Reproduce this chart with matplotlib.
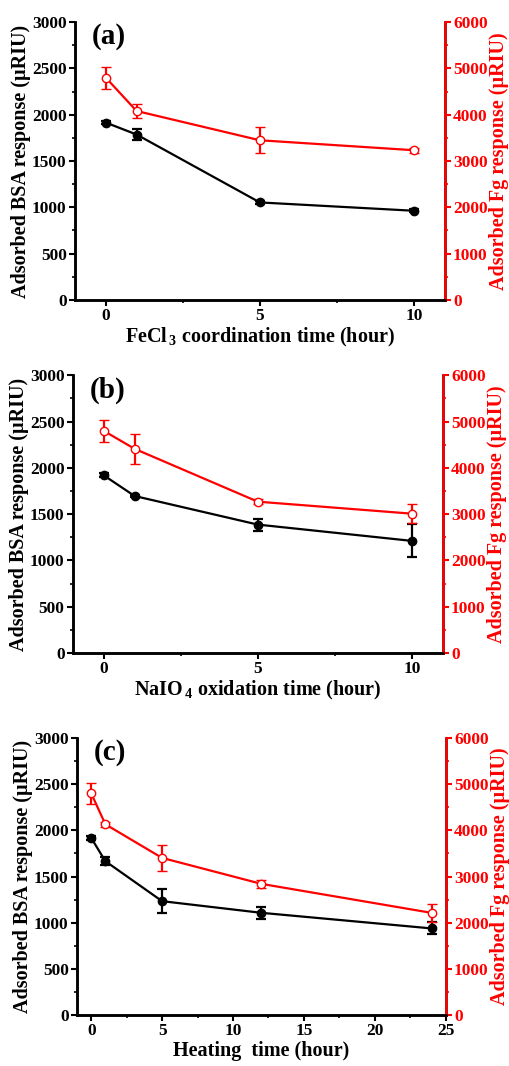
"""Adsorbed BSA / Fg responses vs treatment time, three stacked twin-axis panels."""
import numpy as np
import matplotlib
matplotlib.use("Agg")
import matplotlib.pyplot as plt
from matplotlib.ticker import MultipleLocator

plt.rcParams["font.family"] = ["Liberation Serif", "DejaVu Serif"]
plt.rcParams["font.weight"] = "bold"
plt.rcParams["mathtext.default"] = "regular"

# (a) FeCl3 coordination
t_a = [0, 1, 5, 10]
bsa_a = [1915, 1786, 1053, 963]
bsa_a_err = [20, 63, 20, 15]
fg_a = [4800, 4080, 3448, 3233]
fg_a_err = [240, 145, 280, 55]

# (b) NaIO4 oxidation
t_b = [0, 1, 5, 10]
bsa_b = [1919, 1696, 1387, 1211]
bsa_b_err = [20, 15, 65, 178]
fg_b = [4799, 4411, 3269, 3010]
fg_b_err = [233, 330, 60, 208]

# (c) heating
t_c = [0, 1, 5, 12, 24]
bsa_c = [1918, 1666, 1233, 1107, 938]
bsa_c_err = [20, 45, 133, 65, 65]
fg_c = [4802, 4131, 3403, 2841, 2213]
fg_c_err = [225, 55, 280, 85, 200]

panels = [
    ("(a)", t_a, bsa_a, bsa_a_err, fg_a, fg_a_err, r"FeCl$_{\,3}$ coordination time (hour)", (-1, 11), 5),
    ("(b)", t_b, bsa_b, bsa_b_err, fg_b, fg_b_err, r"NaIO$_{\,4}$ oxidation time (hour)", (-1, 11), 5),
    ("(c)", t_c, bsa_c, bsa_c_err, fg_c, fg_c_err, "Heating  time (hour)", (-1, 25), 5),
]
boxes = [
    [0.147, 0.7186, 0.725, 0.2607],
    [0.143, 0.3874, 0.725, 0.2606],
    [0.151, 0.0478, 0.723, 0.2599],
]

fig = plt.figure(figsize=(5.1, 10.66), dpi=100)
for (tag, t, b, be, f, fe, xl, xlim, xmaj), box in zip(panels, boxes):
    ax = fig.add_axes(box)
    ax2 = ax.twinx()
    ax.errorbar(t, b, yerr=be, color="black", lw=1.6, marker="o", ms=6,
                mfc="black", mec="black", capsize=3.5, capthick=1.6, elinewidth=1.6, zorder=3)
    ax2.errorbar(t, f, yerr=fe, color="red", lw=1.6, marker="o", ms=6,
                 mfc="white", mec="red", mew=1.0, capsize=3.5, capthick=1.6, elinewidth=1.6)
    ax.set_xlim(*xlim)
    ax.set_ylim(0, 3000)
    ax2.set_ylim(0, 6000)
    ax.xaxis.set_major_locator(MultipleLocator(xmaj))
    ax.xaxis.set_minor_locator(MultipleLocator(xmaj / 2))
    ax.yaxis.set_major_locator(MultipleLocator(500))
    ax.yaxis.set_minor_locator(MultipleLocator(250))
    ax2.yaxis.set_major_locator(MultipleLocator(1000))
    ax2.yaxis.set_minor_locator(MultipleLocator(500))
    for a in (ax, ax2):
        for s in a.spines.values():
            s.set_linewidth(1.8)
    ax.spines["top"].set_visible(False)
    ax2.spines["top"].set_visible(False)
    ax2.spines["right"].set_color("red")
    ax.tick_params(which="major", length=4, width=1.5, labelsize=12.5, pad=2)
    ax.tick_params(which="minor", length=2, width=1.2)
    ax2.tick_params(axis="y", which="major", length=4, width=1.5, labelsize=12.5,
                    colors="red", pad=2)
    ax2.tick_params(axis="y", which="minor", length=2, width=1.2, colors="red")
    ax.set_ylabel("Adsorbed BSA response (\u00b5RIU)", fontsize=14.5, fontweight="bold", labelpad=1)
    ax2.set_ylabel("Adsorbed Fg response (\u00b5RIU)", fontsize=14.5, fontweight="bold",
                   color="red", labelpad=1)
    ax.set_xlabel(xl, fontsize=14.5, fontweight="bold", labelpad=1)
    ax.text(0.045, 0.995, tag, transform=ax.transAxes, fontsize=21, fontweight="bold",
            va="top", ha="left")

fig.savefig("out.png", dpi=100)
